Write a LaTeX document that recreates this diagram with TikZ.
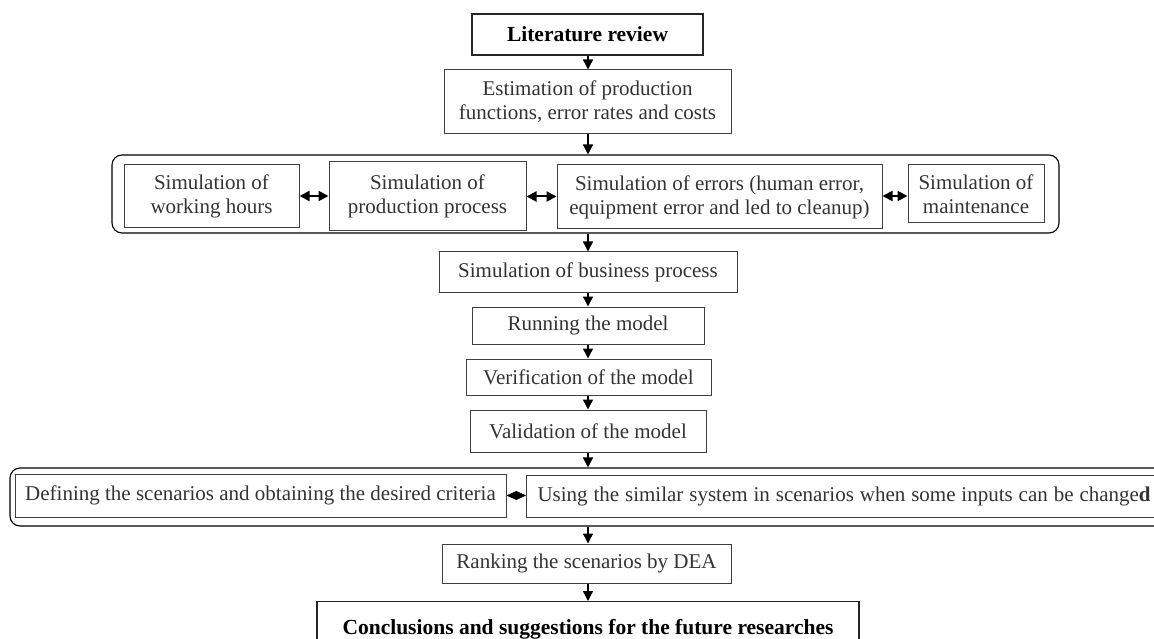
\documentclass[tikz,border=0pt]{standalone}
\usepackage{fontspec}
\setmainfont{Liberation Serif}
\usetikzlibrary{arrows.meta}
\begin{document}
\begin{tikzpicture}[x=1pt,y=-1pt,
  stepbox/.style={draw=black!75, line width=1pt, text=black!80,
    font=\fontsize{21pt}{24pt}\selectfont, inner sep=0pt, align=center},
  headbox/.style={draw=black!85, line width=1.1pt, text=black,
    font=\fontsize{21.5pt}{24pt}\selectfont\bfseries, inner sep=0pt, align=center},
  groupbox/.style={draw=black, line width=1.1pt, rounded corners=10pt, inner sep=0pt},
  flow/.style={line width=1.4pt, -{Triangle[length=10pt,width=10pt]}},
  twoway/.style={line width=2pt, {Triangle[length=10pt,width=10pt]}-{Triangle[length=10pt,width=10pt]}},
  pairlink/.style={line width=0.5pt, {Triangle[length=10pt,width=9pt]}-{Triangle[length=10pt,width=9pt]}},
]
\useasboundingbox (0,0) rectangle (1154,639);
\clip (0,0) rectangle (1154,639);

% vertical axis of the main flow
\coordinate (axis) at (588,0);

% top of the flow
\node[headbox, minimum width=231pt, minimum height=41pt] (lit) at (587.5,34.5) {Literature review};
\node[stepbox, minimum width=287pt, minimum height=64pt] (est) at (587.5,102)
  {Estimation of production\\functions, error rates and costs};

% simulation group
\node[groupbox, minimum width=947pt, minimum height=78pt] (simgrp) at (585.5,194) {};
\node[stepbox, minimum width=175pt, minimum height=63pt] (work) at (211.5,196) {Simulation of\\working hours};
\node[stepbox, minimum width=197pt, minimum height=69pt] (prod) at (427.5,196.5) {Simulation of\\production process};
\node[stepbox, minimum width=325pt, minimum height=64pt] (err) at (719.5,197)
  {Simulation of errors (human error,\\equipment error and led to cleanup)};
\node[stepbox, minimum width=136pt, minimum height=58pt] (maint) at (976,194) {Simulation of\\maintenance};

% model steps
\node[stepbox, minimum width=298pt, minimum height=40pt] (bus) at (588,272) {Simulation of business process};
\node[stepbox, minimum width=232pt, minimum height=37pt] (run) at (588,325.5) {Running the model};
\node[stepbox, minimum width=245pt, minimum height=36pt] (ver) at (588.5,377) {Verification of the model};
\node[stepbox, minimum width=236pt, minimum height=42pt] (val) at (588,431) {Validation of the model};

% scenario group
\node[groupbox, minimum width=1190pt, minimum height=58pt] (scengrp) at (605,497) {};
\node[stepbox, minimum width=491pt, minimum height=43pt] (def) at (260.5,495.5)
  {Defining the scenarios and obtaining the desired criteria};
\node[stepbox, anchor=west, minimum height=42pt, inner xsep=11pt, text width=663pt, align=left] (use) at (526,496)
  {\spaceskip=5.9pt Using the similar system in scenarios when some inputs can be change\textbf{d}};

% end of the flow
\node[stepbox, minimum width=289pt, minimum height=39pt] (rank) at (586.5,563.5) {Ranking the scenarios by DEA};
\node[headbox, anchor=north, minimum width=542pt, text height=15pt, text depth=6pt, inner ysep=18pt] (conc) at (588,601)
  {Conclusions and suggestions for the future researches};

% connectors of the main flow
\draw[flow] (lit.south -| axis) -- (est.north -| axis);
\draw[flow] (est.south -| axis) -- (simgrp.north -| axis);
\draw[flow] (simgrp.south -| axis) -- (bus.north -| axis);
\draw[flow] (bus.south -| axis) -- (run.north -| axis);
\draw[flow] (run.south -| axis) -- (ver.north -| axis);
\draw[flow] (ver.south -| axis) -- (val.north -| axis);
\draw[flow] (val.south -| axis) -- (scengrp.north -| axis);
\draw[flow] (scengrp.south -| axis) -- (rank.north -| axis);
\draw[flow] (rank.south -| axis) -- (conc.north -| axis);

% links inside the groups
\draw[twoway] (work.east) -- (work.east -| prod.west);
\draw[twoway] (prod.east) -- (prod.east -| err.west);
\draw[twoway] (err.east |- 0,196) -- (maint.west |- 0,196);
\draw[pairlink] (def.east) -- (def.east -| use.west);
\end{tikzpicture}
\end{document}
